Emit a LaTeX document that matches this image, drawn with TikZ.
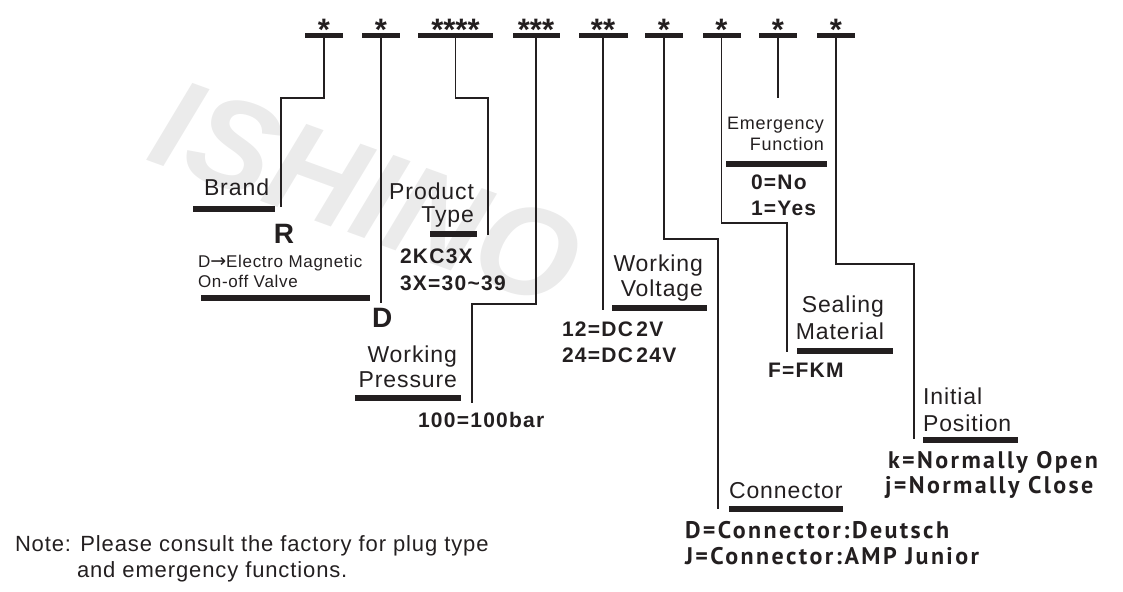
\documentclass[tikz,border=0pt]{standalone}
\usepackage{fontspec}
\setmainfont{Liberation Sans}
\newfontfamily\labfont{Liberation Sans}[LetterSpace=4]
\newfontfamily\valfont{Liberation Sans}[LetterSpace=6]
\newfontfamily\humfont{PT Sans}[LetterSpace=10]
\newfontfamily\arrfont{DejaVu Sans}
\definecolor{ink}{HTML}{231F20}
\tikzset{
 txt/.style={inner sep=0pt, outer sep=0pt, text=ink},
 lab/.style={txt, font=\labfont\fontsize{23}{27}\selectfont},
 small/.style={txt, font=\labfont\fontsize{17}{20}\selectfont},
 emg/.style={txt, font=\labfont\fontsize{18}{21}\selectfont},
 val/.style={txt, font=\valfont\bfseries\fontsize{21}{25}\selectfont},
 hval/.style={txt, font=\humfont\bfseries\fontsize{24}{28}\selectfont},
 big/.style={txt, font=\bfseries\fontsize{28}{32}\selectfont},
 starlab/.style={txt, font=\bfseries\fontsize{31}{35}\selectfont, anchor=base},
 bar/.style={fill=ink, draw=none, inner sep=0pt, outer sep=0pt, minimum height=5.5pt, minimum width=#1},
 conn/.style={draw=ink, line width=1.2pt},
 note/.style={txt, font=\labfont\fontsize{22}{26}\selectfont},
 wmark/.style={inner sep=0pt, text=black!8, font=\bfseries\itshape\fontsize{128}{134}\selectfont},
}
\begin{document}
\begin{tikzpicture}[x=1pt,y=-1pt]
\useasboundingbox (0,0) rectangle (1123,591);
% watermark
\node[wmark, rotate=-20] (wm) at (367,193) {ISHINO};
% top code bars
\node[bar=38] (t1) at (324,35.5) {};
\node[bar=38] (t2) at (381,35.5) {};
\node[bar=75] (t3) at (455.5,35.5) {};
\node[bar=47] (t4) at (536,35.5) {};
\node[bar=49] (t5) at (603,35.5) {};
\node[bar=38] (t6) at (664,35.5) {};
\node[bar=38] (t7) at (721.5,35.5) {};
\node[bar=38] (t8) at (778,35.5) {};
\node[bar=38] (t9) at (836,35.5) {};
\node[starlab] (s1) at (324,41) {*};
\node[starlab] (s2) at (381,41) {*};
\node[starlab] (s3) at (455.5,41) {****};
\node[starlab] (s4) at (536,41) {***};
\node[starlab] (s5) at (603,41) {**};
\node[starlab] (s6) at (664,41) {*};
\node[starlab] (s7) at (721.5,41) {*};
\node[starlab] (s8) at (778,41) {*};
\node[starlab] (s9) at (836,41) {*};
% label bars
\node[bar=82] (bBrand) at (234,209) {};
\node[bar=169] (bD) at (285.5,298) {};
\node[bar=47] (bPT) at (453.5,234) {};
\node[bar=106] (bWP) at (408,398) {};
\node[bar=95] (bWV) at (659.5,308) {};
\node[bar=101] (bEF) at (776.5,164) {};
\node[bar=96] (bSM) at (845,351) {};
\node[bar=95] (bIP) at (970.5,440) {};
\node[bar=114] (bC) at (786,509) {};
% connector points
\coordinate (m1) at (281,98);  \coordinate (e1) at (281,207);
\coordinate (e2) at (381,303);
\coordinate (m3) at (488,98);  \coordinate (e3) at (488,235);
\coordinate (m4) at (472,304); \coordinate (e4) at (472,403);
\coordinate (e5) at (603,310);
\coordinate (m6) at (718,239); \coordinate (e6) at (718,509);
\coordinate (m7) at (787,223); \coordinate (e7) at (787,352);
\coordinate (e8) at (778,98);
\coordinate (m9) at (914,264); \coordinate (e9) at (914,439);
\draw[conn] (t1.south) |- (m1) -- (e1);
\draw[conn] (t2.south) -- (e2);
\draw[conn] (t3.south) |- (m3) -- (e3);
\draw[conn] (t4.south) |- (m4) -- (e4);
\draw[conn] (t5.south) -- (e5);
\draw[conn] (t6.south) |- (m6) -- (e6);
\draw[conn] (t7.south) |- (m7) -- (e7);
\draw[conn] (t8.south) -- (e8);
\draw[conn] (t9.south) |- (m9) -- (e9);
% texts
\node[lab, anchor=base west] (brand) at (204,195) {Brand};
\node[big, anchor=base] (R) at (284,243) {R};
\node[small, anchor=base west] (dem1) at (198,267) {D{\arrfont\fontsize{19}{20}\selectfont →}Electro Magnetic};
\node[small, anchor=base west] (dem2) at (198,287) {On-off Valve};
\node[lab, anchor=base east] (prod1) at (474,199) {Product};
\node[lab, anchor=base east] (prod2) at (474,222) {Type};
\node[val, anchor=base west] (pv1) at (400,263) {2KC3X};
\node[val, anchor=base west] (pv2) at (400,290) {3X=30\char`\~39};
\node[big, anchor=base west] (Dbig) at (372,327) {D};
\node[lab, anchor=base east] (wp1) at (457,362) {Working};
\node[lab, anchor=base east] (wp2) at (457,387) {Pressure};
\node[val, anchor=base west] (wpv) at (418,427) {100=100bar};
\node[lab, anchor=base east] (wv1) at (703,271) {Working};
\node[lab, anchor=base east] (wv2) at (703,296) {Voltage};
\node[val, anchor=base west] (wvv1) at (562,336) {12=DC\,2V};
\node[val, anchor=base west] (wvv2) at (562,362) {24=DC\,24V};
\node[emg, anchor=base east] (ef1) at (824,129) {Emergency};
\node[emg, anchor=base east] (ef2) at (824,150) {Function};
\node[val, anchor=base west] (efv1) at (751,189) {0=No};
\node[val, anchor=base west] (efv2) at (751,215) {1=Yes};
\node[lab, anchor=base east] (sm1) at (884,312) {Sealing};
\node[lab, anchor=base east] (sm2) at (884,339) {Material};
\node[val, anchor=base west] (smv) at (768,377) {F=FKM};
\node[lab, anchor=base west] (ip1) at (923,404) {Initial};
\node[lab, anchor=base west] (ip2) at (923,431) {Position};
\node[hval, anchor=base west] (ipv1) at (888,468) {k=Normally Open};
\node[hval, anchor=base west] (ipv2) at (885,493) {j=Normally Close};
\node[lab, anchor=base west] (con) at (729,498) {Connector};
\node[hval, anchor=base west] (conv1) at (685,538) {D=Connector:Deutsch};
\node[hval, anchor=base west] (conv2) at (685,564) {J=Connector:AMP Junior};
\node[note, anchor=base west] (n1) at (15,551) {Note: Please consult the factory for plug type};
\node[note, anchor=base west] (n2) at (77,577) {and emergency functions.};
\end{tikzpicture}
\end{document}
